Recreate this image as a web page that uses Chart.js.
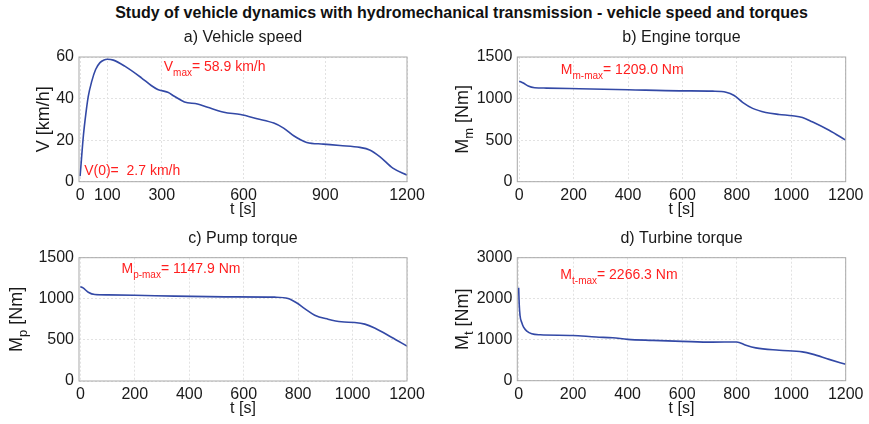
<!DOCTYPE html>
<html>
<head>
<meta charset="utf-8">
<script src="https://cdn.jsdelivr.net/npm/chart.js@4.4.1/dist/chart.umd.min.js"></script>
<style>
  body { margin: 0; background: #fff; width: 869px; height: 424px; position: relative; overflow: hidden;
         font-family: "Liberation Sans", Arial, sans-serif; }
  #title { position: absolute; left: 27px; top: 4px; width: 869px; text-align: center;
           font-weight: bold; font-size: 16px; color: #111; }
  canvas { position: absolute; }
</style>
</head>
<body>
<div id="title">Study of vehicle dynamics with hydromechanical transmission - vehicle speed and torques</div>
<canvas id="a" width="434" height="200" style="left:0;top:25px"></canvas>
<canvas id="b" width="434" height="200" style="left:434px;top:25px"></canvas>
<canvas id="c" width="434" height="200" style="left:0;top:225px"></canvas>
<canvas id="d" width="434" height="200" style="left:434px;top:225px"></canvas>
<script>
// a) vehicle speed [km/h]
const speedTime   = [0, 3, 6, 12, 21, 30, 43, 57, 73, 88, 100, 122, 164, 225, 261, 285, 322, 346, 383, 431, 468, 528, 589, 650, 711, 747, 784, 832, 893, 954, 1027, 1063, 1100, 1148, 1200];
const speedValues = [2.7, 7.5, 12.5, 22, 32.5, 41, 48.4, 54, 57.3, 58.6, 58.9, 58.5, 55.6, 50, 46.3, 44.4, 43, 41.1, 38.4, 37.4, 35.8, 33.4, 32.3, 30.3, 28.2, 25.8, 22.1, 18.9, 18.1, 17.4, 16.5, 15.3, 12.1, 6.5, 3.2];

// b) engine torque [Nm]
const engineTime   = [0, 15, 33, 57, 100, 222, 400, 589, 711, 760, 790, 821, 858, 906, 955, 1004, 1041, 1077, 1139, 1200];
const engineTorque = [1209, 1187, 1150, 1130, 1126, 1118, 1106, 1093, 1089, 1077, 1037, 955, 882, 833, 809, 793, 772, 720, 618, 500];

// c) pump torque [Nm]
const pumpTime   = [0, 10, 29, 53, 102, 200, 347, 531, 714, 763, 794, 824, 861, 910, 959, 1008, 1045, 1081, 1143, 1200];
const pumpTorque = [1147.9, 1132, 1080, 1052, 1048, 1044, 1032, 1024, 1020, 1004, 952, 880, 800, 752, 720, 712, 692, 644, 532, 424];

// d) turbine torque [Nm]
const turbineTime   = [0, 2, 5, 11, 18, 30, 48, 79, 198, 284, 345, 400, 492, 600, 710, 800, 834, 870, 956, 1041, 1078, 1139, 1200];
const turbineTorque = [2266.3, 1870, 1590, 1424, 1304, 1208, 1144, 1120, 1104, 1064, 1048, 1008, 984, 960, 940, 945, 864, 800, 744, 704, 648, 520, 400];

const xTicksSpeed  = [0, 100, 300, 600, 900, 1200];
const xTicksTorque = [0, 200, 400, 600, 800, 1000, 1200];
const yTicksSpeed  = [0, 20, 40, 60];
const yTicksTorque = [0, 500, 1000, 1500];
const yTicksTurbine = [0, 1000, 2000, 3000];

const FONT = '"Liberation Sans", Arial, sans-serif';
const RED = '#ff1f1f';

const panels = [
  { id: 'a', title: 'a) Vehicle speed', ylab: ['V [km/h]', '', ''], ylabDx: 35,
    time: speedTime, values: speedValues, xt: xTicksSpeed, yt: yTicksSpeed, xMin: -4,
    area: { l: 79, r: 407, t: 32, b: 156.7 },
    notes: [ { x: 307, y: 55.1, parts: ['V', 'max', '= 58.9 km/h'] },
             { x: 15, y: 4.9, parts: ['V(0)=  2.7 km/h', '', ''] } ] },
  { id: 'b', title: 'b) Engine torque', ylab: ['M', 'm', ' [Nm]'], ylabDx: 54,
    time: engineTime, values: engineTorque, xt: xTicksTorque, yt: yTicksTorque, xMin: -7,
    area: { l: 83.3, r: 411.7, t: 32, b: 156.7 },
    notes: [ { x: 153, y: 1340, parts: ['M', 'm-max', '= 1209.0 Nm'] } ] },
  { id: 'c', title: 'c) Pump torque', ylab: ['M', 'p', ' [Nm]'], ylabDx: 62,
    time: pumpTime, values: pumpTorque, xt: xTicksTorque, yt: yTicksTorque, xMin: -5,
    area: { l: 79, r: 407, t: 32.7, b: 156 },
    notes: [ { x: 151, y: 1359, parts: ['M', 'p-max', '= 1147.9 Nm'] } ] },
  { id: 'd', title: 'd) Turbine torque', ylab: ['M', 't', ' [Nm]'], ylabDx: 54,
    time: turbineTime, values: turbineTorque, xt: xTicksTorque, yt: yTicksTurbine, xMin: -5,
    area: { l: 83.3, r: 411.7, t: 32.7, b: 155.7 },
    notes: [ { x: 153, y: 2578, parts: ['M', 't-max', '= 2266.3 Nm'] } ] }
];

function drawParts(ctx, parts, x, y, big, small, subDy) {
  ctx.font = big + 'px ' + FONT;
  const w0 = ctx.measureText(parts[0]).width;
  ctx.font = small + 'px ' + FONT;
  const w1 = ctx.measureText(parts[1]).width;
  ctx.font = big + 'px ' + FONT;
  ctx.fillText(parts[0], x, y);
  ctx.font = small + 'px ' + FONT;
  ctx.fillText(parts[1], x + w0, y + subDy);
  ctx.font = big + 'px ' + FONT;
  ctx.fillText(parts[2], x + w0 + w1, y);
}

function partsWidth(ctx, parts, big, small) {
  ctx.font = big + 'px ' + FONT;
  let w = ctx.measureText(parts[0]).width + ctx.measureText(parts[2]).width;
  ctx.font = small + 'px ' + FONT;
  return w + ctx.measureText(parts[1]).width;
}

const decor = {
  id: 'decor',
  afterDraw(chart, args, o) {
    const { ctx, chartArea: a } = chart;
    const p = o.panel;
    ctx.save();
    ctx.strokeStyle = '#a9a9a9';
    ctx.lineWidth = 1;
    ctx.strokeRect(a.left, a.top, a.right - a.left, a.bottom - a.top);

    ctx.fillStyle = '#1a1a1a';
    ctx.textBaseline = 'middle';
    ctx.textAlign = 'center';
    ctx.font = '16px ' + FONT;
    ctx.fillText(p.title, (a.left + a.right) / 2, a.top - 19);
    ctx.fillText('t [s]', (a.left + a.right) / 2, a.bottom + 28);

    // y axis label, rotated
    ctx.textAlign = 'left';
    const w = partsWidth(ctx, p.ylab, 18, 13);
    ctx.translate(a.left - p.ylabDx, (a.top + a.bottom) / 2);
    ctx.rotate(-Math.PI / 2);
    drawParts(ctx, p.ylab, -w / 2, 0, 18, 13, 6);
    ctx.setTransform(1, 0, 0, 1, 0, 0);

    // red annotations
    ctx.fillStyle = RED;
    const xs = chart.scales.x, ys = chart.scales.y;
    p.notes.forEach(n => {
      drawParts(ctx, n.parts, xs.getPixelForValue(n.x), ys.getPixelForValue(n.y), 14, 10, 6);
    });
    ctx.restore();
  }
};

panels.forEach(p => {
  const ar = p.area;
  new Chart(document.getElementById(p.id), {
    type: 'line',
    data: {
      datasets: [{
        data: p.time.map((t, i) => ({ x: t, y: p.values[i] })),
        borderColor: '#3349a6',
        borderWidth: 1.6,
        pointRadius: 0,
        cubicInterpolationMode: 'monotone',
        fill: false
      }]
    },
    options: {
      responsive: false,
      animation: false,
      layout: { padding: { left: 0, top: ar.t, right: 434 - ar.r, bottom: 0 } },
      plugins: { legend: { display: false }, tooltip: { enabled: false }, decor: { panel: p } },
      scales: {
        x: {
          type: 'linear', min: p.xMin, max: 1200,
          afterBuildTicks: s => { s.ticks = p.xt.map(v => ({ value: v })); },
          afterFit: s => { s.height = 200 - ar.b; },
          grid: { color: '#e2e2e2', drawTicks: false },
          border: { display: false, dash: [2, 2] },
          ticks: { padding: 4, color: '#1a1a1a', font: { size: 16, family: FONT }, maxRotation: 0, autoSkip: false,
                   callback: v => String(v) }
        },
        y: {
          min: p.yt[0], max: p.yt[p.yt.length - 1],
          afterBuildTicks: s => { s.ticks = p.yt.map(v => ({ value: v })); },
          afterFit: s => { s.width = ar.l; },
          grid: { color: '#e2e2e2', drawTicks: false },
          border: { display: false, dash: [2, 2] },
          ticks: { padding: 5, color: '#1a1a1a', font: { size: 16, family: FONT }, callback: v => String(v) }
        }
      }
    },
    plugins: [decor]
  });
});
</script>
</body>
</html>
